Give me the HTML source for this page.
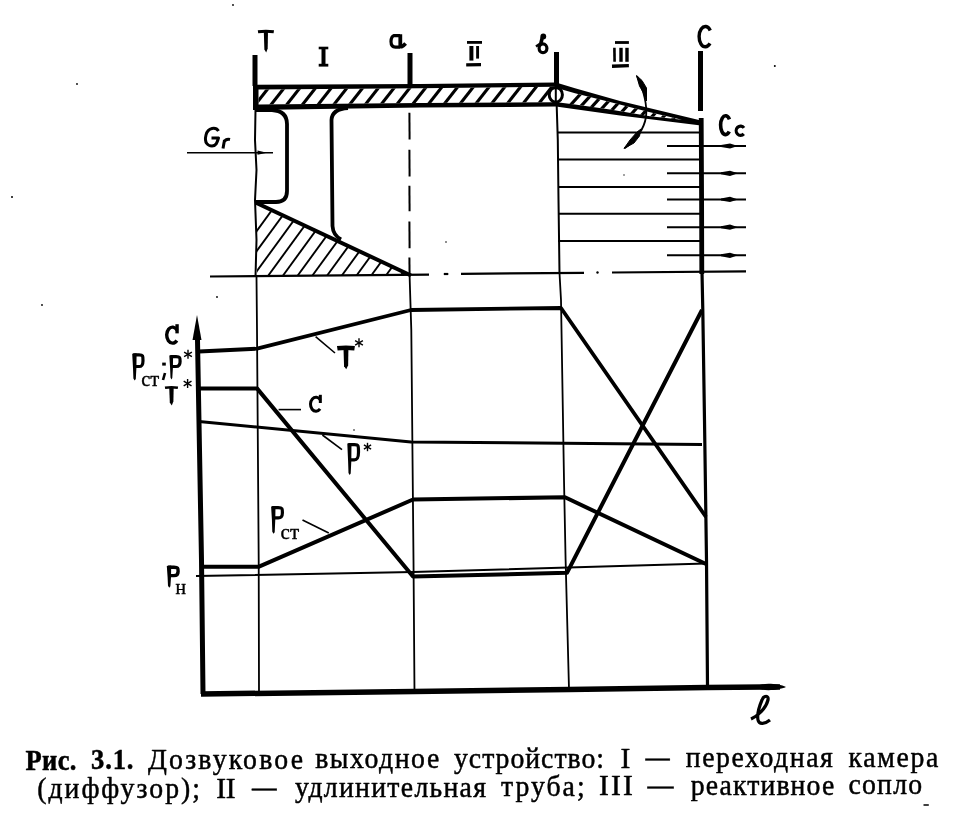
<!DOCTYPE html>
<html><head><meta charset="utf-8"><style>
html,body{margin:0;padding:0;background:#fff;width:966px;height:821px;overflow:hidden}
svg{position:absolute;left:0;top:0;filter:grayscale(1)} text{-webkit-font-smoothing:antialiased}
.cap{position:absolute;font-family:"Liberation Serif",serif;color:#000;white-space:nowrap}
</style></head><body>
<svg width="966" height="821" viewBox="0 0 966 821" stroke="#000" stroke-linecap="butt" stroke-linejoin="round" fill="none"><line x1="255" y1="55" x2="255" y2="86" stroke-width="5"/>
<line x1="410" y1="53" x2="410" y2="86" stroke-width="5"/>
<line x1="556.5" y1="52" x2="556.5" y2="84" stroke-width="5"/>
<line x1="700.5" y1="51" x2="700.5" y2="111" stroke-width="5"/>
<polygon fill="#000" stroke="none" points="253.00,84.80 420.00,84.10 556.00,82.40 575.00,88.30 620.00,101.00 701.00,120.50 703.00,121.50 703.00,125.80 701.00,125.50 620.00,115.50 556.00,106.60 420.00,107.60 253.00,110.00"/>
<defs>
<clipPath id="cw1"><polygon points="258.50,89.60 420.00,88.20 556.00,86.80 556.00,102.20 420.00,103.10 258.50,104.60"/></clipPath>
<clipPath id="cw2"><polygon points="555.00,87.60 575.00,93.20 610.00,102.00 650.00,112.30 682.00,119.80 650.00,116.30 610.00,109.60 575.00,104.60 555.00,102.00"/></clipPath>
<clipPath id="ctri"><polygon points="257,203 411,275 411,276 257,276"/></clipPath>
</defs>
<polygon fill="#fff" stroke="none" points="258.50,89.60 420.00,88.20 556.00,86.80 556.00,102.20 420.00,103.10 258.50,104.60"/>
<polygon fill="#fff" stroke="none" points="555.00,87.60 575.00,93.20 610.00,102.00 650.00,112.30 682.00,119.80 650.00,116.30 610.00,109.60 575.00,104.60 555.00,102.00"/>
<g clip-path="url(#cw1)"><line x1="238.6" y1="106" x2="254.3" y2="86" stroke-width="3.1"/><line x1="254.3" y1="106" x2="270.0" y2="86" stroke-width="3.1"/><line x1="270.0" y1="106" x2="285.7" y2="86" stroke-width="3.1"/><line x1="285.7" y1="106" x2="301.4" y2="86" stroke-width="3.1"/><line x1="301.4" y1="106" x2="317.1" y2="86" stroke-width="3.1"/><line x1="317.1" y1="106" x2="332.8" y2="86" stroke-width="3.1"/><line x1="332.8" y1="106" x2="348.5" y2="86" stroke-width="3.1"/><line x1="348.5" y1="106" x2="364.2" y2="86" stroke-width="3.1"/><line x1="364.2" y1="106" x2="379.9" y2="86" stroke-width="3.1"/><line x1="379.9" y1="106" x2="395.6" y2="86" stroke-width="3.1"/><line x1="395.6" y1="106" x2="411.3" y2="86" stroke-width="3.1"/><line x1="411.3" y1="106" x2="427.0" y2="86" stroke-width="3.1"/><line x1="427.0" y1="106" x2="442.7" y2="86" stroke-width="3.1"/><line x1="442.7" y1="106" x2="458.4" y2="86" stroke-width="3.1"/><line x1="458.4" y1="106" x2="474.1" y2="86" stroke-width="3.1"/><line x1="474.1" y1="106" x2="489.8" y2="86" stroke-width="3.1"/><line x1="489.8" y1="106" x2="505.5" y2="86" stroke-width="3.1"/><line x1="505.5" y1="106" x2="521.2" y2="86" stroke-width="3.1"/><line x1="521.2" y1="106" x2="536.9" y2="86" stroke-width="3.1"/><line x1="536.9" y1="106" x2="552.6" y2="86" stroke-width="3.1"/><line x1="552.6" y1="106" x2="568.3" y2="86" stroke-width="3.1"/></g>
<g clip-path="url(#cw2)"><line x1="555.1" y1="122" x2="587.8" y2="86" stroke-width="3.2"/><line x1="566.6" y1="122" x2="599.3" y2="86" stroke-width="3.2"/><line x1="578.1" y1="122" x2="610.8" y2="86" stroke-width="3.2"/><line x1="589.6" y1="122" x2="622.3" y2="86" stroke-width="3.2"/><line x1="601.1" y1="122" x2="633.8" y2="86" stroke-width="3.2"/><line x1="612.6" y1="122" x2="645.3" y2="86" stroke-width="3.2"/><line x1="624.1" y1="122" x2="656.8" y2="86" stroke-width="3.2"/><line x1="635.6" y1="122" x2="668.3" y2="86" stroke-width="3.2"/><line x1="647.1" y1="122" x2="679.8" y2="86" stroke-width="3.2"/><line x1="658.6" y1="122" x2="691.3" y2="86" stroke-width="3.2"/><line x1="670.1" y1="122" x2="702.8" y2="86" stroke-width="3.2"/><line x1="681.6" y1="122" x2="714.3" y2="86" stroke-width="3.2"/><line x1="693.1" y1="122" x2="725.8" y2="86" stroke-width="3.2"/></g>
<ellipse cx="555.8" cy="94.8" rx="6.6" ry="7.4" stroke-width="3" fill="#fff"/>
<line x1="555.8" y1="86" x2="555.8" y2="104" stroke-width="2"/>
<polyline points="255.5,110 255,140 256.5,170 255,200 256.5,240 255.5,277" stroke-width="2" />
<path d="M255,110 L272,110 Q287,111 287,124 L287,191 Q287,202 276,202 L256,202" stroke-width="3.8" fill="none"/>
<path d="M348,108 Q332,109 331.5,120 L332.5,226 Q333,235 341,239.5" stroke-width="3.8" fill="none"/>
<line x1="256.5" y1="203" x2="411" y2="275.5" stroke-width="4"/>
<g clip-path="url(#ctri)"><line x1="223.5" y1="276.5" x2="281.5" y2="197" stroke-width="1.9"/><line x1="238.2" y1="276.5" x2="296.2" y2="197" stroke-width="1.9"/><line x1="252.9" y1="276.5" x2="310.9" y2="197" stroke-width="1.9"/><line x1="267.6" y1="276.5" x2="325.6" y2="197" stroke-width="1.9"/><line x1="282.3" y1="276.5" x2="340.3" y2="197" stroke-width="1.9"/><line x1="297.0" y1="276.5" x2="355.0" y2="197" stroke-width="1.9"/><line x1="311.7" y1="276.5" x2="369.7" y2="197" stroke-width="1.9"/><line x1="326.4" y1="276.5" x2="384.4" y2="197" stroke-width="1.9"/><line x1="341.1" y1="276.5" x2="399.1" y2="197" stroke-width="1.9"/><line x1="355.8" y1="276.5" x2="413.8" y2="197" stroke-width="1.9"/><line x1="370.5" y1="276.5" x2="428.5" y2="197" stroke-width="1.9"/><line x1="385.2" y1="276.5" x2="443.2" y2="197" stroke-width="1.9"/><line x1="399.9" y1="276.5" x2="457.9" y2="197" stroke-width="1.9"/><line x1="414.6" y1="276.5" x2="472.6" y2="197" stroke-width="1.9"/></g>
<line x1="187" y1="152.7" x2="273" y2="152.7" stroke-width="1.6"/>
<polygon points="267,152.7 257.5,150.6 257.5,154.8" fill="#000" stroke="none"/>
<line x1="409.4" y1="112.7" x2="409.6" y2="139.4" stroke-width="2"/>
<line x1="409.4" y1="149.8" x2="409.6" y2="176.4" stroke-width="2"/>
<line x1="409.4" y1="185.7" x2="409.6" y2="211.2" stroke-width="2"/>
<line x1="409.4" y1="221.6" x2="409.6" y2="248.2" stroke-width="2"/>
<line x1="409.4" y1="257.5" x2="409.6" y2="276" stroke-width="2"/>
<line x1="210" y1="276.5" x2="429" y2="274.6" stroke-width="2.2"/>
<line x1="443.8" y1="274" x2="448.3" y2="274" stroke-width="2.2"/>
<line x1="461" y1="273.8" x2="584" y2="272.8" stroke-width="2.2"/>
<line x1="612" y1="272.5" x2="746" y2="271.4" stroke-width="2.2"/>
<polyline points="556.7,106 557.8,140 558.5,200 559.5,273" stroke-width="2" />
<line x1="558" y1="132.5" x2="701" y2="132.5" stroke-width="2"/>
<line x1="558" y1="159.6" x2="701" y2="159.6" stroke-width="2"/>
<line x1="558" y1="187" x2="701" y2="187" stroke-width="2"/>
<line x1="558" y1="213.8" x2="701" y2="213.8" stroke-width="2"/>
<line x1="558" y1="241" x2="701" y2="241" stroke-width="2"/>
<polyline points="701.2,118 701.6,200 701.8,274" stroke-width="4.8" />
<line x1="667" y1="146" x2="746" y2="146" stroke-width="2"/>
<polygon points="738,146 730,143.4 721,145 721,147 730,148.6" fill="#000" stroke="none"/>
<line x1="667" y1="173.3" x2="746" y2="173.3" stroke-width="2"/>
<polygon points="738,173.3 730,170.70000000000002 721,172.3 721,174.3 730,175.9" fill="#000" stroke="none"/>
<line x1="667" y1="199.4" x2="746" y2="199.4" stroke-width="2"/>
<polygon points="738,199.4 730,196.8 721,198.4 721,200.4 730,202.0" fill="#000" stroke="none"/>
<line x1="667" y1="227.2" x2="746" y2="227.2" stroke-width="2"/>
<polygon points="738,227.2 730,224.6 721,226.2 721,228.2 730,229.79999999999998" fill="#000" stroke="none"/>
<line x1="667" y1="255.3" x2="746" y2="255.3" stroke-width="2"/>
<polygon points="738,255.3 730,252.70000000000002 721,254.3 721,256.3 730,257.90000000000003" fill="#000" stroke="none"/>
<path d="M637,76 Q648,100 646,117 Q643,135 624.5,148.3" stroke-width="1.8" fill="none"/>
<path d="M636.5,75.5 L642,80.5 L646.5,88 L646.5,101 L643.5,93 L639.5,86 Z" fill="#000" stroke="#000" stroke-width="1"/>
<path d="M624,148.5 L630,140 L637,132 L641,129 L639.5,136 L634,143 Z" fill="#000" stroke="#000" stroke-width="1"/>
<polyline points="197.5,340 201.5,560 203,694" stroke-width="5" />
<polygon points="197,315 192.5,340 201.5,340" fill="#000" stroke="none"/>
<polyline points="201,694 414,691.5 569,689.5 707,687.5 780,687" stroke-width="5.5" />
<path d="M757,687 C760,682.3 778,683.3 786,687 C778,690.7 760,691.7 757,687 Z" fill="#000" stroke="none"/>
<polyline points="256.5,277 257,330 258.7,560 259,694" stroke-width="1.8" />
<polyline points="409.6,276 411.3,330 413.5,560 414.5,694" stroke-width="1.8" />
<polyline points="559.5,273 561,300 564,480 565.6,560 569,689" stroke-width="1.8" />
<polyline points="702,272 702.8,310 704.5,420 706.5,560 707.5,687" stroke-width="3.2" />
<polyline points="199,351.5 257,348.7 411,310 561,308 706,517" stroke-width="3.8" />
<polyline points="199,388.4 257,388.4 413,576.5 567,572.8 702,310" stroke-width="4" />
<polyline points="199,421.4 411,442 702,444.5" stroke-width="3" />
<polyline points="202,566.7 259,566.7 413,499.5 565,497.3 706,564" stroke-width="4" />
<polyline points="196,576 413,572 706,563.5" stroke-width="2" />
<line x1="315.6" y1="336.6" x2="335" y2="353" stroke-width="1.6"/>
<line x1="278.6" y1="409.6" x2="301" y2="409.6" stroke-width="1.6"/>
<line x1="322.4" y1="435" x2="342" y2="449.6" stroke-width="1.6"/>
<line x1="302.5" y1="520" x2="328.8" y2="533" stroke-width="1.6"/>
<path d="M258,31.8 Q265.9,30.599999999999998 273.8,31.8" stroke-width="3.0"/>
<polygon fill="#000" stroke="none" points="263.79999999999995,30.7 268.0,30.7 267.7,48.6 266.2,52.6 264.4,49.6"/>
<path d="M323.5,47 L323.5,66" stroke-width="4"/><path d="M318.7,48 L328.3,48" stroke-width="2.6"/><path d="M318.7,65.2 L328.3,65.2" stroke-width="2.8"/>
<path d="M400.3,34.2 L400.3,45.5 Q401,48.5 405.6,43.5" stroke-width="3.8"/><path d="M400,35.6 L394,35.6 Q391.2,36.5 391,41.5 Q391,47 395.5,47.2 L400,47.2" stroke-width="3.2"/>
<path d="M467,42.4 L482,42.4" stroke-width="2.8"/><path d="M471.4,46 L471.4,60.6" stroke-width="4"/><path d="M477.6,46 L477.6,58.6" stroke-width="2.9"/><path d="M466.2,64.9 L481,64.6" stroke-width="3.4"/>
<path d="M615,42.5 L628.9,42.5" stroke-width="2.8"/><path d="M614.4,47.8 L614.6,61.8" stroke-width="2.6"/><path d="M621,47.8 L621,61.8" stroke-width="3.4"/><path d="M627,47.8 L627,61.8" stroke-width="3.4"/><path d="M612,66.2 L628.9,65.6" stroke-width="3.4"/>
<circle cx="543.3" cy="36.4" r="2.9" fill="#000" stroke="none"/><path d="M542.3,37.5 L540.6,44.5" stroke-width="3.6"/><ellipse cx="543" cy="48.3" rx="3.9" ry="4.4" stroke-width="3.2"/><path d="M536,46.6 L540,43.8" stroke-width="2.4"/>
<path d="M710.28,30.40 A6.25,10.15 0 1 0 709.99,43.44" stroke-width="3.4"/>
<path d="M729.45,119.41 A4.95,9.40 0 1 0 729.23,131.49" stroke-width="3.6"/>
<path d="M743.98,127.89 A4.35,4.65 0 1 0 743.78,133.86" stroke-width="3.2"/>
<path d="M218.5,131 C216,127 208,127 206,135 C204,143 208,146 212,146 C216,146 217,143 218.5,138 L211.5,138" stroke-width="3"/>
<path d="M223,148.5 L224.5,140 M224,142 C225.5,139.5 228,139 230,139.5" stroke-width="3"/>
<path d="M177.07,330.17 A5.80,8.00 0 1 0 176.81,340.45" stroke-width="3.4"/>
<path d="M177.07,325.90 L177.07,331.67" stroke-width="3.40" stroke-linecap="square"/>
<polygon fill="#000" stroke="none" points="132.2,353.7 136.6,353.2 136.4,368.1 135.79999999999998,379.0 134.61999999999998,380.5 133.39999999999998,378.5 133.0,368.1"/>
<path d="M133.2,354.8 L139.01999999999998,354.8 C143.0,354.8 143.0,355.8 143.0,360.65 C143.0,365.5 141.5,366.5 139.01999999999998,366.5 L134.2,366.5" stroke-width="3.2"/>
<text x="141.2" y="385.6" font-size="21" stroke="#000" stroke-width="0.4" fill="#000" font-family="Liberation Serif" textLength="18" lengthAdjust="spacingAndGlyphs">ст</text>
<path d="M164,362.6 L164,365.6" stroke-width="3.6"/><path d="M165,373 L163,380" stroke-width="2.6"/>
<polygon fill="#000" stroke="none" points="169.3,355.5 173.10000000000002,355 172.90000000000003,368.1 172.3,378.1 171.39000000000001,379.6 170.5,377.6 170.10000000000002,368.1"/>
<path d="M170.3,356.6 L176.12,356.6 C180.1,356.6 180.1,357.6 180.1,361.55 C180.1,365.5 178.6,366.5 176.12,366.5 L171.3,366.5" stroke-width="3.2"/>
<line x1="188.0" y1="349.8" x2="188.0" y2="358.8" stroke-width="1.4"/>
<line x1="184.1" y1="352.1" x2="191.9" y2="356.6" stroke-width="1.4"/>
<line x1="191.9" y1="352.1" x2="184.1" y2="356.6" stroke-width="1.4"/>
<path d="M165,387.8 Q171.45,386.59999999999997 177.9,387.8" stroke-width="2.4"/>
<polygon fill="#000" stroke="none" points="169.2,387 173.7,387 173.39999999999998,401.6 171.75,405.6 169.79999999999998,402.6"/>
<line x1="187.6" y1="379.0" x2="187.6" y2="388.0" stroke-width="1.4"/>
<line x1="183.7" y1="381.2" x2="191.5" y2="385.8" stroke-width="1.4"/>
<line x1="191.5" y1="381.2" x2="183.7" y2="385.8" stroke-width="1.4"/>
<path d="M337.3,348.35 Q345.95000000000005,347.15 354.6,348.35" stroke-width="4.5"/>
<polygon fill="#000" stroke="none" points="343.45000000000005,346.5 348.45000000000005,346.5 348.15000000000003,365.2 346.25000000000006,369.2 344.05000000000007,366.2"/>
<line x1="359.0" y1="338.3" x2="359.0" y2="347.3" stroke-width="1.4"/>
<line x1="355.1" y1="340.6" x2="362.9" y2="345.1" stroke-width="1.4"/>
<line x1="362.9" y1="340.6" x2="355.1" y2="345.1" stroke-width="1.4"/>
<path d="M320.33,399.99 A5.50,7.00 0 1 0 320.09,408.98" stroke-width="3"/>
<path d="M320.33,396.30 L320.33,401.49" stroke-width="3.00" stroke-linecap="square"/>
<polygon fill="#000" stroke="none" points="347.3,443.5 351.5,443 351.3,461.4 350.7,473.5 349.61,475 348.5,473 348.1,461.4"/>
<path d="M348.3,444.6 L354.34000000000003,444.6 C358.5,444.6 358.5,445.6 358.5,452.2 C358.5,458.79999999999995 357.0,459.79999999999995 354.34000000000003,459.79999999999995 L349.3,459.79999999999995" stroke-width="3.2"/>
<line x1="367.5" y1="442.8" x2="367.5" y2="451.2" stroke-width="1.4"/>
<line x1="363.9" y1="444.9" x2="371.1" y2="449.1" stroke-width="1.4"/>
<line x1="371.1" y1="444.9" x2="363.9" y2="449.1" stroke-width="1.4"/>
<polygon fill="#000" stroke="none" points="271.1,506.5 275.5,506 275.3,519.4 274.7,532.2 273.52000000000004,533.7 272.3,531.7 271.90000000000003,519.4"/>
<path d="M272.1,507.6 L278.195,507.6 C282.4,507.6 282.4,508.6 282.4,512.7 C282.4,516.8 280.9,517.8 278.195,517.8 L273.1,517.8" stroke-width="3.2"/>
<text x="280.6" y="538.6" font-size="22" stroke="#000" stroke-width="0.4" fill="#000" font-family="Liberation Serif" textLength="18.5" lengthAdjust="spacingAndGlyphs">ст</text>
<polygon fill="#000" stroke="none" points="166.8,566.0 171.20000000000002,565.5 171.00000000000003,577.3 170.4,586.3 169.22,587.8 168.0,585.8 167.60000000000002,577.3"/>
<path d="M167.8,567.2 L173.95000000000002,567.2 C178.10000000000002,567.2 178.10000000000002,568.2 178.10000000000002,571.4 C178.10000000000002,574.5999999999999 176.60000000000002,575.5999999999999 173.95000000000002,575.5999999999999 L168.8,575.5999999999999" stroke-width="3.4"/>
<text x="175.6" y="594" font-size="20" stroke="#000" stroke-width="0.4" fill="#000" font-family="Liberation Serif" textLength="10.5" lengthAdjust="spacingAndGlyphs">н</text>
<path d="M751,719 C758,716 766,708 768,700 C769,695 764,695 762,700 C759,707 757,715 758,720 C759,725 765,724 770,720" stroke-width="3.2"/>
<text transform="translate(25.6,769.71) scale(0.9,1)" x="0" y="0" font-family="Liberation Serif" font-size="29.5" stroke="#000" stroke-width="0.5" fill="#000" font-weight="bold" textLength="56.44" lengthAdjust="spacing">Рис.</text>
<text transform="translate(91.0,769.48) scale(0.9,1)" x="0" y="0" font-family="Liberation Serif" font-size="29.5" stroke="#000" stroke-width="0.5" fill="#000" font-weight="bold" textLength="47.11" lengthAdjust="spacing">3.1.</text>
<text transform="translate(148.0,769.06) scale(0.94,1)" x="0" y="0" font-family="Liberation Serif" font-size="29.5" stroke="#000" stroke-width="0.5" fill="#000"  textLength="164.89" lengthAdjust="spacing">Дозвуковое</text>
<text transform="translate(315.2,768.49) scale(0.94,1)" x="0" y="0" font-family="Liberation Serif" font-size="29.5" stroke="#000" stroke-width="0.5" fill="#000"  textLength="131.91" lengthAdjust="spacing">выходное</text>
<text transform="translate(454.0,767.93) scale(0.94,1)" x="0" y="0" font-family="Liberation Serif" font-size="29.5" stroke="#000" stroke-width="0.5" fill="#000"  textLength="159.57" lengthAdjust="spacing">устройство:</text>
<text transform="translate(620.6,767.57) scale(1.0,1)" x="0" y="0" font-family="Liberation Serif" font-size="29.5" stroke="#000" stroke-width="0.5" fill="#000"  textLength="6.2" lengthAdjust="spacing">I</text>
<text transform="translate(645.4,767.45) scale(1.0,1)" x="0" y="0" font-family="Liberation Serif" font-size="29.5" stroke="#000" stroke-width="0.5" fill="#000"  textLength="24.2" lengthAdjust="spacingAndGlyphs">—</text>
<text transform="translate(685.8,767.07) scale(0.94,1)" x="0" y="0" font-family="Liberation Serif" font-size="29.5" stroke="#000" stroke-width="0.5" fill="#000"  textLength="156.38" lengthAdjust="spacing">переходная</text>
<text transform="translate(848.6,766.57) scale(0.94,1)" x="0" y="0" font-family="Liberation Serif" font-size="29.5" stroke="#000" stroke-width="0.5" fill="#000"  textLength="95.32" lengthAdjust="spacing">камера</text>
<text transform="translate(37.2,798.18) scale(0.94,1)" x="0" y="0" font-family="Liberation Serif" font-size="29.5" stroke="#000" stroke-width="0.5" fill="#000"  textLength="173.19" lengthAdjust="spacing">(диффузор);</text>
<text transform="translate(216.2,797.59) scale(1.0,1)" x="0" y="0" font-family="Liberation Serif" font-size="29.5" stroke="#000" stroke-width="0.5" fill="#000"  textLength="19.4" lengthAdjust="spacing">II</text>
<text transform="translate(252.0,797.38) scale(1.0,1)" x="0" y="0" font-family="Liberation Serif" font-size="29.5" stroke="#000" stroke-width="0.5" fill="#000"  textLength="24.6" lengthAdjust="spacingAndGlyphs">—</text>
<text transform="translate(295.0,796.70) scale(0.94,1)" x="0" y="0" font-family="Liberation Serif" font-size="29.5" stroke="#000" stroke-width="0.5" fill="#000"  textLength="203.19" lengthAdjust="spacing">удлинительная</text>
<text transform="translate(501.0,795.87) scale(0.94,1)" x="0" y="0" font-family="Liberation Serif" font-size="29.5" stroke="#000" stroke-width="0.5" fill="#000"  textLength="88.94" lengthAdjust="spacing">труба;</text>
<text transform="translate(599.0,795.46) scale(1.0,1)" x="0" y="0" font-family="Liberation Serif" font-size="29.5" stroke="#000" stroke-width="0.5" fill="#000"  textLength="33.8" lengthAdjust="spacing">III</text>
<text transform="translate(647.4,795.22) scale(1.0,1)" x="0" y="0" font-family="Liberation Serif" font-size="29.5" stroke="#000" stroke-width="0.5" fill="#000"  textLength="26.0" lengthAdjust="spacingAndGlyphs">—</text>
<text transform="translate(690.8,794.67) scale(0.94,1)" x="0" y="0" font-family="Liberation Serif" font-size="29.5" stroke="#000" stroke-width="0.5" fill="#000"  textLength="152.55" lengthAdjust="spacing">реактивное</text>
<text transform="translate(848.6,794.00) scale(0.94,1)" x="0" y="0" font-family="Liberation Serif" font-size="29.5" stroke="#000" stroke-width="0.5" fill="#000"  textLength="78.09" lengthAdjust="spacing">сопло</text>
<line x1="923.5" y1="805" x2="928.8" y2="805" stroke-width="1.5"/>
<circle cx="233" cy="5" r="0.9" fill="#000" stroke="none"/>
<circle cx="77" cy="84" r="0.9" fill="#000" stroke="none"/>
<circle cx="12" cy="197" r="1" fill="#000" stroke="none"/>
<circle cx="42" cy="305" r="0.9" fill="#000" stroke="none"/>
<circle cx="217" cy="297" r="0.9" fill="#000" stroke="none"/>
<circle cx="597.5" cy="272.5" r="1.2" fill="#000" stroke="none"/>
<circle cx="774.8" cy="66" r="1" fill="#000" stroke="none"/>
<circle cx="446" cy="242" r="0.8" fill="#000" stroke="none"/>
<circle cx="405" cy="441" r="0.8" fill="#000" stroke="none"/>
<circle cx="354" cy="430" r="0.8" fill="#000" stroke="none"/>
<circle cx="624" cy="175" r="0.7" fill="#000" stroke="none"/></svg>
</body></html>
